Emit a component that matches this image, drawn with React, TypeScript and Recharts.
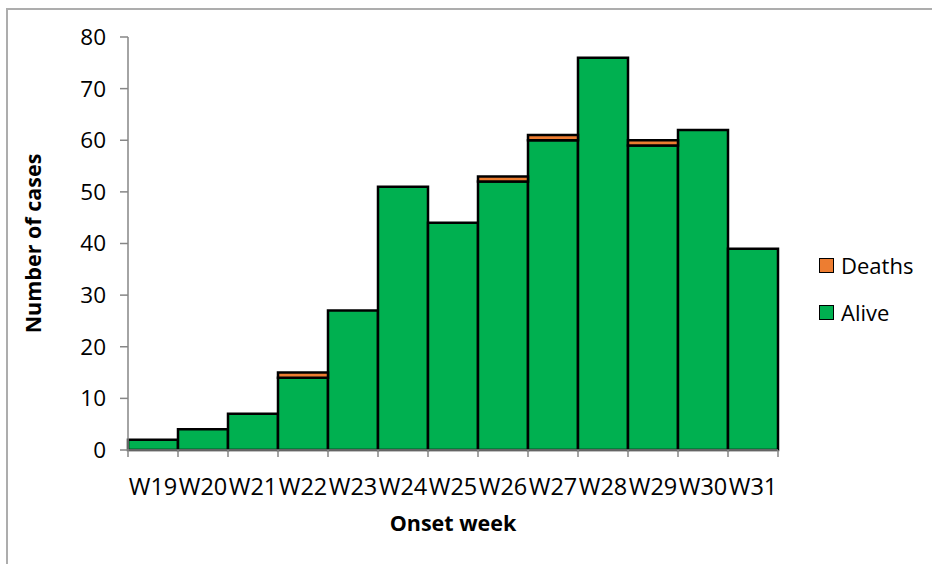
import React from "react";
import { BarChart, Bar, XAxis, YAxis, Label } from "recharts";

// Weekly case counts by outcome
const weeks = ["W19", "W20", "W21", "W22", "W23", "W24", "W25", "W26", "W27", "W28", "W29", "W30", "W31"];
const alive = [2, 4, 7, 14, 27, 51, 44, 52, 60, 76, 59, 62, 39];
const deaths = [0, 0, 0, 1, 0, 0, 0, 1, 1, 0, 1, 0, 0];
const yTicks = [0, 10, 20, 30, 40, 50, 60, 70, 80];

const legendItems = [
  { name: "Deaths", color: "#ED7D31" },
  { name: "Alive", color: "#00B050" },
];

const data = weeks.map((week, i) => ({ week, Alive: alive[i], Deaths: deaths[i] }));

const FONT = "'Open Sans', sans-serif";
const AXIS = "#868686";

// tick marks sit between the bars, labels in the middle
const WeekTick = (props: any) => {
  const { x, y, payload, index, width, visibleTicksCount } = props;
  const band = width / visibleTicksCount;
  const last = index === visibleTicksCount - 1;
  return (
    <g>
      <line x1={x - band / 2} x2={x - band / 2} y1={y} y2={y + 7} stroke={AXIS} strokeWidth={1.5} />
      {last && <line x1={x + band / 2} x2={x + band / 2} y1={y} y2={y + 7} stroke={AXIS} strokeWidth={1.5} />}
      <text x={x} y={y + 45} textAnchor="middle" fontSize={23.5} fill="#000" fontFamily={FONT}>
        {payload.value}
      </text>
    </g>
  );
};

export default function App() {
  return (
    <div style={{ position: "absolute", left: 0, top: 0, width: 932, height: 564, background: "#fff", overflow: "hidden", fontFamily: FONT }}>
      <div
        style={{
          position: "absolute",
          left: 6,
          top: 8,
          width: 960,
          height: 600,
          borderTop: "2px solid #adadad",
          borderLeft: "2px solid #adadad",
        }}
      />
      <div style={{ position: "absolute", left: 0, top: 0 }}>
        <BarChart
          width={932}
          height={564}
          data={data}
          margin={{ top: 37, right: 154, bottom: 84, left: 68 }}
          barCategoryGap={0}
        >
          <XAxis
            dataKey="week"
            tick={<WeekTick />}
            tickLine={false}
            tickSize={0}
            tickMargin={0}
            interval={0}
            axisLine={{ stroke: AXIS, strokeWidth: 1.5 }}
            height={30}
          >
            <Label
              content={({ viewBox }: any) => (
                <text
                  x={viewBox.x + viewBox.width / 2}
                  y={viewBox.y + 81}
                  textAnchor="middle"
                  fontSize={21.5}
                  fontWeight="bold"
                  fontFamily={FONT}
                  fill="#000"
                >
                  Onset week
                </text>
              )}
            />
          </XAxis>
          <YAxis
            width={60}
            domain={[0, 80]}
            ticks={yTicks}
            interval={0}
            tickSize={8}
            tickMargin={14}
            tickLine={{ stroke: AXIS, strokeWidth: 1.5 }}
            axisLine={{ stroke: AXIS, strokeWidth: 1.5 }}
            tick={{ fontSize: 22.5, fill: "#000", fontFamily: FONT }}
          >
            <Label
              content={({ viewBox }: any) => (
                <text
                  x={0}
                  y={0}
                  transform={`translate(${viewBox.x - 27}, ${viewBox.y + viewBox.height / 2}) rotate(-90)`}
                  textAnchor="middle"
                  fontSize={21.5}
                  fontWeight="bold"
                  fontFamily={FONT}
                  fill="#000"
                >
                  Number of cases
                </text>
              )}
            />
          </YAxis>
          <Bar dataKey="Alive" stackId="a" fill="#00B050" stroke="#000" strokeWidth={2.5} isAnimationActive={false} />
          <Bar dataKey="Deaths" stackId="a" fill="#ED7D31" stroke="#000" strokeWidth={2.5} isAnimationActive={false} />
        </BarChart>
      </div>
      {legendItems.map((item, i) => (
        <div
          key={item.name}
          style={{ position: "absolute", left: 819, top: 250 + i * 47, display: "flex", alignItems: "center", height: 30 }}
        >
          <div style={{ width: 13, height: 13, background: item.color, border: "1.5px solid #000" }} />
          <span style={{ marginLeft: 7, fontSize: 22, color: "#000", lineHeight: "30px" }}>{item.name}</span>
        </div>
      ))}
    </div>
  );
}
